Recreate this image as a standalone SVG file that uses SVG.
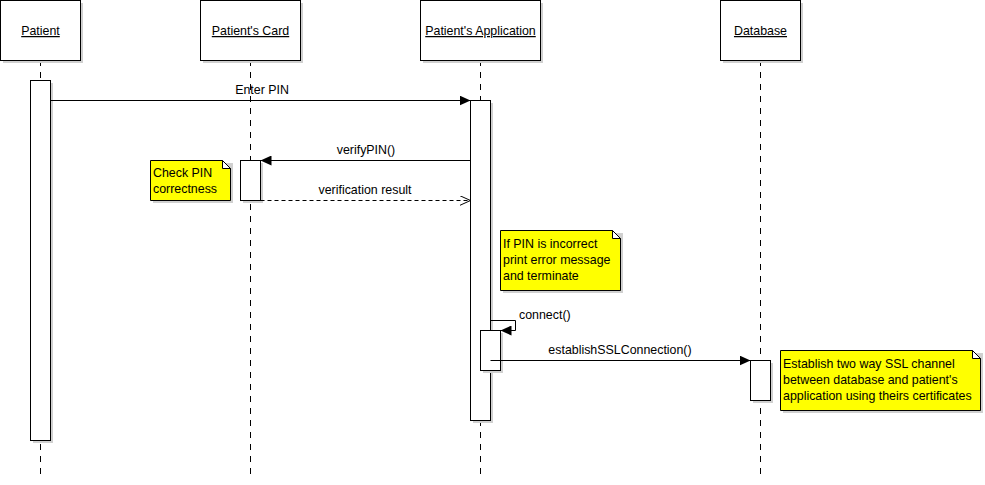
<svg xmlns="http://www.w3.org/2000/svg" width="985" height="485" viewBox="0 0 985 485">
<defs>
<marker id="fill" markerWidth="12" markerHeight="10" refX="11" refY="5" orient="auto" markerUnits="userSpaceOnUse"><path d="M0,0 L11,5 L0,10 Z" fill="#000"/></marker>
<marker id="open" markerWidth="12" markerHeight="10" refX="11" refY="5" orient="auto" markerUnits="userSpaceOnUse"><path d="M0,0 L11,5 L0,10" fill="none" stroke="#000"/></marker>
</defs>
<style>
text{font-family:"Liberation Sans",Arial,sans-serif;font-size:12.4px;fill:#000}
.hd{text-anchor:middle;text-decoration:underline}
.box{fill:#fff;stroke:#000;stroke-width:1}
.sh{fill:#d0d0d0}
.life{stroke:#000;stroke-dasharray:6,6;fill:none}
.note{fill:#ffff00;stroke:#000}
.fold{fill:#fff;stroke:#000}
.msg{stroke:#000;fill:none}
.lbl{text-anchor:middle}
</style>
<rect width="985" height="485" fill="#fff"/>
<g id="lifelines">
<line class="life" x1="40.5" y1="60" x2="40.5" y2="480"/>
<line class="life" x1="250.5" y1="60" x2="250.5" y2="480"/>
<line class="life" x1="480.5" y1="60" x2="480.5" y2="480"/>
<line class="life" x1="760.5" y1="60" x2="760.5" y2="480"/>
</g>
<g id="patient">
<rect class="sh" x="3" y="3" width="80" height="60"/>
<rect class="box" x="0.5" y="0.5" width="80" height="60"/>
<text class="hd" x="40.5" y="35">Patient</text>
</g>
<g id="card">
<rect class="sh" x="203" y="3" width="100" height="60"/>
<rect class="box" x="200.5" y="0.5" width="100" height="60"/>
<text class="hd" x="250.5" y="35">Patient's Card</text>
</g>
<g id="app">
<rect class="sh" x="423" y="3" width="120" height="60"/>
<rect class="box" x="420.5" y="0.5" width="120" height="60"/>
<text class="hd" x="480.5" y="35">Patient's Application</text>
</g>
<g id="database">
<rect class="sh" x="723" y="3" width="80" height="60"/>
<rect class="box" x="720.5" y="0.5" width="80" height="60"/>
<text class="hd" x="760.5" y="35">Database</text>
</g>
<g id="activations">
<rect class="sh" x="33" y="83" width="20" height="360"/>
<rect class="box" x="30.5" y="80.5" width="20" height="360"/>
<rect class="sh" x="473" y="103" width="20" height="320"/>
<rect class="box" x="470.5" y="100.5" width="20" height="320"/>
<rect class="sh" x="243" y="163" width="20" height="40"/>
<rect class="box" x="240.5" y="160.5" width="20" height="40"/>
<rect class="sh" x="483" y="333" width="20" height="40"/>
<rect class="box" x="480.5" y="330.5" width="20" height="40"/>
<rect class="sh" x="753" y="363" width="20" height="40"/>
<rect class="box" x="750.5" y="360.5" width="20" height="40"/>
</g>
<g id="note-check">
<path class="sh" d="M153,163 H233 V203 H153 Z"/>
<path class="note" d="M150.5,160.5 H222.5 L230.5,168.5 V200.5 H150.5 Z"/>
<path class="fold" d="M222.5,160.5 V168.5 H230.5 Z"/>
<text x="153" y="177">Check PIN</text>
<text x="153" y="193">correctness</text>
</g>
<g id="note-incorrect">
<path class="sh" d="M503,233 H623 V293 H503 Z"/>
<path class="note" d="M500.5,230.5 H612.5 L620.5,238.5 V290.5 H500.5 Z"/>
<path class="fold" d="M612.5,230.5 V238.5 H620.5 Z"/>
<text x="503" y="248">If PIN is incorrect</text>
<text x="503" y="264">print error message</text>
<text x="503" y="280">and terminate</text>
</g>
<g id="note-ssl">
<path class="sh" d="M783,353 H983 V413 H783 Z"/>
<path class="note" d="M780.5,350.5 H972.5 L980.5,358.5 V410.5 H780.5 Z"/>
<path class="fold" d="M972.5,350.5 V358.5 H980.5 Z"/>
<text x="783" y="368">Establish two way SSL channel</text>
<text x="783" y="384">between database and patient's</text>
<text x="783" y="400">application using theirs certificates</text>
</g>
<g id="connectors">
<line class="msg" x1="50.5" y1="100.5" x2="470.5" y2="100.5" marker-end="url(#fill)"/>
<text class="lbl" x="262" y="94">Enter PIN</text>
<line class="msg" x1="470.5" y1="160.5" x2="260.5" y2="160.5" marker-end="url(#fill)"/>
<text class="lbl" x="366" y="154">verifyPIN()</text>
<line class="msg" x1="260.5" y1="200.5" x2="470.5" y2="200.5" stroke-dasharray="4,3" marker-end="url(#open)"/>
<text class="lbl" x="365" y="194">verification result</text>
<path class="msg" d="M490.5,320.5 H515.5 V330.5 H500.5" marker-end="url(#fill)"/>
<text x="519" y="319">connect()</text>
<line class="msg" x1="490.5" y1="360.5" x2="750.5" y2="360.5" marker-end="url(#fill)"/>
<text class="lbl" x="620" y="354">establishSSLConnection()</text>
</g>
</svg>
